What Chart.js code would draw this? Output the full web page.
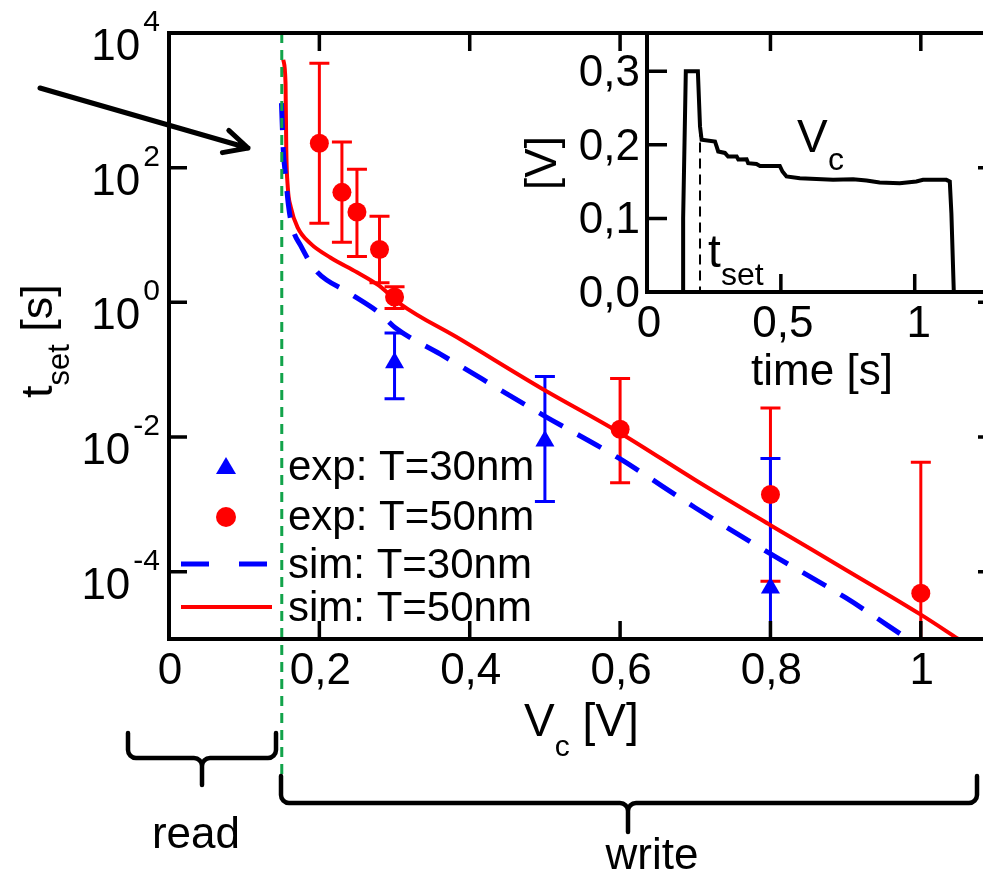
<!DOCTYPE html>
<html>
<head>
<meta charset="utf-8">
<script src="https://cdn.jsdelivr.net/npm/chart.js@4/dist/chart.umd.min.js"></script>
<style>
  html, body { margin: 0; padding: 0; background: #fff; overflow: hidden; }
  body { width: 983px; height: 872px; position: relative; }
  #inset { position: absolute; left: 480px; top: 0; z-index: 0; }
  #main { position: absolute; left: 0; top: 0; z-index: 1; }
</style>
</head>
<body>
<canvas id="inset" width="520" height="400"></canvas>
<canvas id="main" width="1000" height="872"></canvas>
<script>
// ---- data ----
const exp30V  = [0.3, 0.5, 0.8];
const exp30T  = [0.127, 0.0087, 5.7e-5];
const exp30Lo = [0.037, 0.0011, 1e-6];
const exp30Hi = [0.35, 0.079, 0.0048];

const exp50V  = [0.2, 0.23, 0.25, 0.28, 0.3, 0.6, 0.8, 1.0];
const exp50T  = [230, 43, 22, 6.1, 1.2, 0.013, 0.0014, 4.8e-5];
const exp50Lo = [15, 7.8, 4.8, 1.96, 0.81, 0.0021, 7.2e-5, 1e-6];
const exp50Hi = [3550, 240, 95, 19, 1.7, 0.074, 0.027, 0.0042];

const sim30V = [0.1496, 0.152, 0.155, 0.159, 0.164, 0.175, 0.195, 0.241, 0.281, 0.301, 0.361, 0.498, 0.599, 0.7, 0.798, 0.9, 0.983];
const sim30T = [910, 180, 77, 27, 13, 7.0, 3.0, 1.35, 0.68, 0.42, 0.17, 0.021, 0.0048, 8.9e-4, 1.9e-4, 4.1e-5, 1e-5];

const sim50V = [0.152, 0.155, 0.156, 0.158, 0.162, 0.171, 0.188, 0.215, 0.25, 0.279, 0.307, 0.388, 0.494, 0.6, 0.7, 0.8, 0.9, 1.0, 1.05];
const sim50T = [4000, 1800, 182, 51, 26, 13, 7.5, 4.6, 2.8, 1.78, 0.96, 0.28, 0.054, 0.0115, 0.0023, 4.9e-4, 1.07e-4, 2.3e-5, 1e-5];

const xTickVals = [0, 0.2, 0.4, 0.6, 0.8, 1];
const xTickLabels = ['0', '0,2', '0,4', '0,6', '0,8', '1'];
const yTickExps = [4, 2, 0, -2, -4];
const boundaryV = 0.15;

// inset: V_c over time
const insetTime = [0, 0.135, 0.135, 0.145, 0.19, 0.198, 0.204, 0.254, 0.260, 0.266, 0.291, 0.303, 0.335, 0.341, 0.372, 0.378, 0.409, 0.422, 0.496, 0.506, 0.521, 0.571, 0.695, 0.770, 0.820, 0.869, 0.944, 1.006, 1.031, 1.118, 1.131, 1.137, 1.146, 1.27];
const insetVolt = [0, 0, 0.1, 0.3, 0.3, 0.225, 0.207, 0.2045, 0.198, 0.191, 0.189, 0.184, 0.184, 0.180, 0.1805, 0.175, 0.174, 0.1714, 0.1714, 0.1637, 0.157, 0.1547, 0.1524, 0.1533, 0.1515, 0.1488, 0.1478, 0.1501, 0.1524, 0.1524, 0.1501, 0.107, 0, 0];
const insetXTicks = [0, 0.5, 1];
const insetXLabels = ['0', '0,5', '1'];
const insetYTicks = [0, 0.1, 0.2, 0.3];
const insetYLabels = ['0,0', '0,1', '0,2', '0,3'];
const tSet = 0.198;

const FONT = "'Liberation Sans', Arial, sans-serif";
const pts = (xs, ys) => xs.map((v, i) => ({ x: v, y: ys[i] }));

function errBars(ctx, sx, sy, xs, lo, hi, color) {
  ctx.strokeStyle = color;
  ctx.lineWidth = 3;
  xs.forEach((v, i) => {
    const px = sx.getPixelForValue(v);
    const ph = sy.getPixelForValue(hi[i]);
    const pl = sy.getPixelForValue(lo[i]);
    ctx.beginPath();
    ctx.moveTo(px, ph); ctx.lineTo(px, pl);
    ctx.moveTo(px - 10, ph); ctx.lineTo(px + 10, ph);
    ctx.moveTo(px - 10, pl); ctx.lineTo(px + 10, pl);
    ctx.stroke();
  });
}

function brace(ctx, x1, x2, yTop, yMid, xTip, yTip) {
  const r = 8;
  ctx.beginPath();
  ctx.moveTo(x1, yTop);
  ctx.arcTo(x1, yMid, x1 + r, yMid, r);
  ctx.arcTo(xTip, yMid, xTip, yMid + r, r);
  ctx.lineTo(xTip, yTip);
  ctx.moveTo(x2, yTop);
  ctx.arcTo(x2, yMid, x2 - r, yMid, r);
  ctx.arcTo(xTip, yMid, xTip, yMid + r, r);
  ctx.stroke();
}

// pieces: [text, sizePx, dy] drawn one after another
function drawPieces(ctx, pieces, x, y) {
  let cx = x;
  pieces.forEach(([t, s, dy]) => {
    ctx.font = s + 'px ' + FONT;
    ctx.fillText(t, cx, y + dy);
    cx += ctx.measureText(t).width;
  });
}

const mainDecor = {
  id: 'mainDecor',
  beforeDatasetsDraw(chart) {
    const { ctx, chartArea: a, scales: { x, y } } = chart;
    ctx.save();
    ctx.beginPath();
    ctx.rect(a.left, a.top, a.right - a.left, a.bottom - a.top);
    ctx.clip();
    errBars(ctx, x, y, exp50V, exp50Lo, exp50Hi, '#ff0000');
    errBars(ctx, x, y, exp30V, exp30Lo, exp30Hi, '#0000ff');
    ctx.restore();
  },
  afterDraw(chart) {
    const { ctx, chartArea: a, scales: { x, y } } = chart;
    ctx.save();

    // read / write boundary
    const gx = x.getPixelForValue(boundaryV);
    ctx.strokeStyle = '#12a34a';
    ctx.lineWidth = 3;
    ctx.setLineDash([10, 7]);
    ctx.beginPath(); ctx.moveTo(gx, a.top); ctx.lineTo(gx, 778); ctx.stroke();
    ctx.setLineDash([]);

    // frame and inward ticks
    ctx.strokeStyle = '#000';
    ctx.lineWidth = 4;
    ctx.strokeRect(a.left, a.top, a.right - a.left, a.bottom - a.top);
    ctx.lineWidth = 3.5;
    ctx.beginPath();
    xTickVals.slice(1).forEach(v => {
      const px = x.getPixelForValue(v);
      ctx.moveTo(px, a.bottom); ctx.lineTo(px, a.bottom - 18);
      ctx.moveTo(px, a.top); ctx.lineTo(px, a.top + 18);
    });
    yTickExps.forEach(e => {
      const py = y.getPixelForValue(Math.pow(10, e));
      ctx.moveTo(a.left, py); ctx.lineTo(a.left + 18, py);
      ctx.moveTo(a.right, py); ctx.lineTo(a.right - 18, py);
    });
    ctx.stroke();

    // tick labels
    ctx.fillStyle = '#000';
    ctx.textBaseline = 'alphabetic';
    ctx.textAlign = 'center';
    ctx.font = '44px ' + FONT;
    xTickVals.forEach((v, i) => ctx.fillText(xTickLabels[i], x.getPixelForValue(v) + 1, 684));
    ctx.textAlign = 'right';
    yTickExps.forEach(e => {
      const py = y.getPixelForValue(Math.pow(10, e));
      ctx.font = '30px ' + FONT;
      const es = String(e);
      const ew = ctx.measureText(es).width;
      ctx.fillText(es, 160, py - 2);
      ctx.font = '44px ' + FONT;
      ctx.fillText('10', 160 - ew - 3, py + 27);
    });

    // axis titles
    ctx.textAlign = 'left';
    drawPieces(ctx, [['V', 46, 0], ['c', 30, 20], [' [V]', 46, 0]], 524, 736);
    ctx.save();
    ctx.translate(52, 398);
    ctx.rotate(-Math.PI / 2);
    drawPieces(ctx, [['t', 45, 0], ['set', 31, 17], [' [s]', 45, 0]], 0, 0);
    ctx.restore();

    // legend
    const lx = 288;
    const rows = [480, 530, 578, 621];
    const labels = chart.data.datasets.map(d => d.label);
    ctx.font = '42px ' + FONT;
    rows.forEach((b, i) => ctx.fillText(labels[i], lx, b));
    ctx.fillStyle = '#0000ff';
    ctx.beginPath();
    ctx.moveTo(226, 457); ctx.lineTo(236, 474); ctx.lineTo(216, 474); ctx.closePath(); ctx.fill();
    ctx.fillStyle = '#ff0000';
    ctx.beginPath(); ctx.arc(226, 517, 10, 0, Math.PI * 2); ctx.fill();
    ctx.lineWidth = 5;
    ctx.strokeStyle = '#0000ff';
    ctx.setLineDash([28, 30]);
    ctx.beginPath(); ctx.moveTo(181, 564); ctx.lineTo(268, 564); ctx.stroke();
    ctx.setLineDash([]);
    ctx.lineWidth = 4;
    ctx.strokeStyle = '#ff0000';
    ctx.beginPath(); ctx.moveTo(181, 607); ctx.lineTo(272, 607); ctx.stroke();

    // arrow
    ctx.strokeStyle = '#000';
    ctx.lineWidth = 5;
    ctx.lineCap = 'round';
    const tx = 248, ty = 148, ang = Math.atan2(148 - 88, 248 - 40);
    ctx.beginPath();
    ctx.moveTo(40, 88); ctx.lineTo(tx, ty);
    [0.46, -0.46].forEach(d => {
      ctx.moveTo(tx, ty);
      ctx.lineTo(tx - 26 * Math.cos(ang + d), ty - 26 * Math.sin(ang + d));
    });
    ctx.stroke();

    // read / write braces
    ctx.lineWidth = 4.5;
    brace(ctx, 128, 276, 733, 758, 202, 785);
    brace(ctx, 281, 977, 776, 803, 628, 832);
    ctx.lineCap = 'butt';
    ctx.fillStyle = '#000';
    ctx.font = '44px ' + FONT;
    ctx.textAlign = 'center';
    ctx.fillText('read', 196, 848);
    ctx.fillText('write', 652, 869);
    ctx.restore();
  }
};

new Chart(document.getElementById('main'), {
  type: 'scatter',
  data: {
    datasets: [
      { label: 'exp: T=30nm', data: pts(exp30V, exp30T), pointStyle: 'triangle', pointRadius: 11,
        backgroundColor: '#0000ff', borderColor: '#0000ff', borderWidth: 0, showLine: false },
      { label: 'exp: T=50nm', data: pts(exp50V, exp50T), pointStyle: 'circle', pointRadius: 9.5,
        backgroundColor: '#ff0000', borderColor: '#ff0000', borderWidth: 0, showLine: false },
      { label: 'sim: T=30nm', data: pts(sim30V, sim30T), showLine: true, pointRadius: 0,
        borderColor: '#0000ff', borderWidth: 5, borderDash: [27, 17], fill: false,
        cubicInterpolationMode: 'monotone' },
      { label: 'sim: T=50nm', data: pts(sim50V, sim50T), showLine: true, pointRadius: 0,
        borderColor: '#ff0000', borderWidth: 4, fill: false, cubicInterpolationMode: 'monotone' }
    ]
  },
  options: {
    responsive: false,
    animation: false,
    events: [],
    layout: { autoPadding: false, padding: { left: 169, top: 33, right: 4, bottom: 233 } },
    plugins: { legend: { display: false }, tooltip: { enabled: false } },
    scales: {
      x: { type: 'linear', min: 0, max: 1.1, display: false },
      y: { type: 'logarithmic', min: 1e-5, max: 1e4, display: false }
    }
  },
  plugins: [mainDecor]
});

const insetDecor = {
  id: 'insetDecor',
  beforeDatasetsDraw(chart) {
    const { ctx, chartArea: a, scales: { x, y } } = chart;
    ctx.save();
    ctx.fillStyle = '#fff';
    ctx.fillRect(a.left, a.top, a.right - a.left, a.bottom - a.top);
    const px = x.getPixelForValue(tSet);
    ctx.strokeStyle = '#000';
    ctx.lineWidth = 2;
    ctx.setLineDash([10, 6]);
    ctx.beginPath(); ctx.moveTo(px, y.getPixelForValue(0.225)); ctx.lineTo(px, a.bottom); ctx.stroke();
    ctx.restore();
  },
  afterDraw(chart) {
    const { ctx, chartArea: a, scales: { x, y } } = chart;
    ctx.save();
    ctx.strokeStyle = '#000';
    ctx.lineWidth = 4;
    ctx.beginPath();
    ctx.moveTo(a.left, a.top); ctx.lineTo(a.left, a.bottom); ctx.lineTo(a.right, a.bottom);
    ctx.stroke();
    ctx.lineWidth = 3.5;
    ctx.beginPath();
    insetXTicks.slice(1).forEach(v => {
      const px = x.getPixelForValue(v);
      ctx.moveTo(px, a.bottom); ctx.lineTo(px, a.bottom - 18);
    });
    insetYTicks.slice(1).forEach(v => {
      const py = y.getPixelForValue(v);
      ctx.moveTo(a.left, py); ctx.lineTo(a.left + 20, py);
    });
    ctx.stroke();

    ctx.fillStyle = '#000';
    ctx.font = '44px ' + FONT;
    ctx.textAlign = 'center';
    insetXTicks.forEach((v, i) => ctx.fillText(insetXLabels[i], x.getPixelForValue(v) + (v === 1 ? 4 : 2), 337));
    ctx.fillText('time [s]', 822 - 480, 385);
    ctx.textAlign = 'right';
    insetYTicks.forEach((v, i) => ctx.fillText(insetYLabels[i], 640 - 480, y.getPixelForValue(v) + 15));

    ctx.save();
    ctx.translate(556 - 480, 163);
    ctx.rotate(-Math.PI / 2);
    ctx.textAlign = 'center';
    ctx.fillText('[V]', 0, 0);
    ctx.restore();

    ctx.textAlign = 'left';
    drawPieces(ctx, [['V', 46, 0]], 797 - 480, 152);
    drawPieces(ctx, [['c', 32, 0]], 828 - 480, 170);
    drawPieces(ctx, [['t', 46, 0]], 708 - 480, 267);
    drawPieces(ctx, [['set', 32, 0]], 721 - 480, 285);
    ctx.restore();
  }
};

new Chart(document.getElementById('inset'), {
  type: 'scatter',
  data: {
    datasets: [
      { label: 'V_c', data: pts(insetTime, insetVolt), showLine: true, pointRadius: 0,
        borderColor: '#000', borderWidth: 4, fill: false }
    ]
  },
  options: {
    responsive: false,
    animation: false,
    events: [],
    layout: { autoPadding: false, padding: { left: 167, top: 33, right: 13, bottom: 108 } },
    plugins: { legend: { display: false }, tooltip: { enabled: false } },
    scales: {
      x: { type: 'linear', min: 0, max: 1.27, display: false },
      y: { type: 'linear', min: 0, max: 0.352, display: false }
    }
  },
  plugins: [insetDecor]
});
</script>
</body>
</html>
